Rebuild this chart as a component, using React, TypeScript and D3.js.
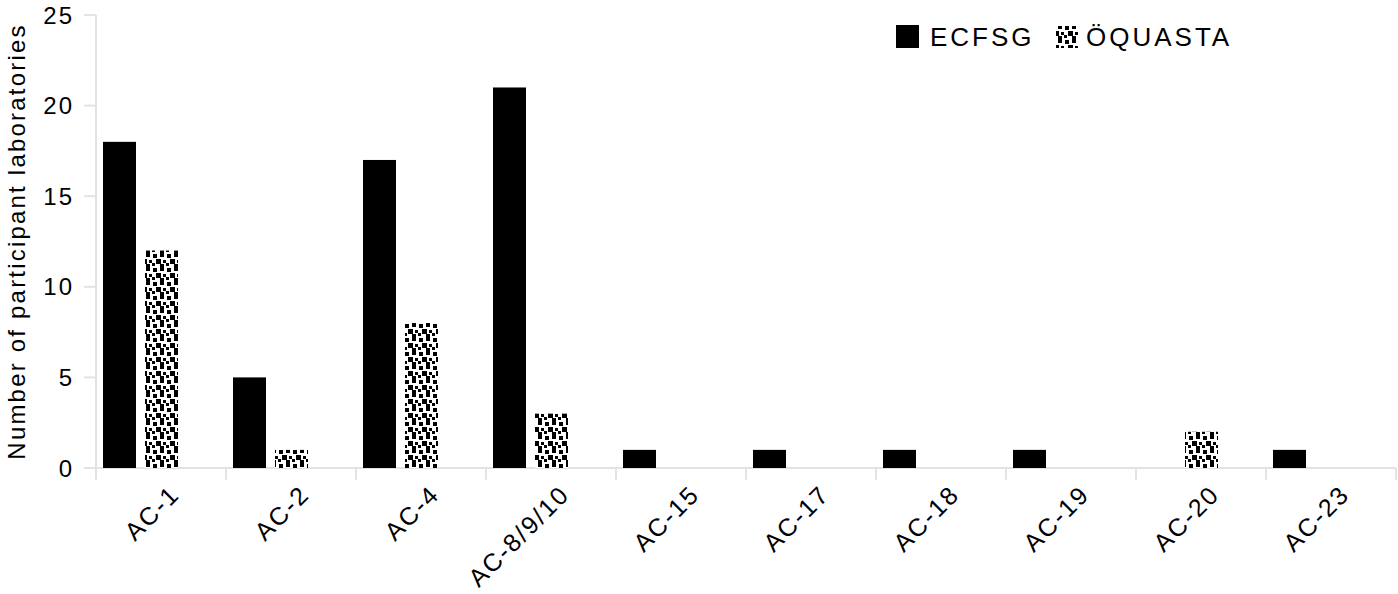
import React from 'react'
import * as d3 from 'd3'

const categories = ['AC-1', 'AC-2', 'AC-4', 'AC-8/9/10', 'AC-15', 'AC-17', 'AC-18', 'AC-19', 'AC-20', 'AC-23']
const ecfsg = [18, 5, 17, 21, 1, 1, 1, 1, 0, 1]
const oquasta = [12, 1, 8, 3, 0, 0, 0, 0, 2, 0]
const yTicks = [0, 5, 10, 15, 20, 25]

const W = 1398
const H = 594
const margin = { top: 15, right: 2, bottom: 126, left: 96 }
const font = 'Liberation Sans, Arial, Helvetica, sans-serif'
const fs = 24
const ls = 2.2
const axisColor = '#e3e3e3'

// little squares for the dotted fill, inside a 14x14 tile
const dots = [
  [1, 1, 4], [8, 0, 4], [4, 6, 5], [11, 7, 3],
  [0, 10, 3], [8, 11, 4],
]

const App = () => {
  const h = H - margin.top - margin.bottom

  const x = d3.scaleBand().domain(categories).range([0, 1300]).padding(0)
  const y = d3.scaleLinear().domain([0, 25]).range([h, 0])

  const barW = 33
  const off1 = 7
  const off2 = 49

  return (
    <svg width={W} height={H} style={{ display: 'block', position: 'absolute', left: 0, top: 0 }}>
      <defs>
        <pattern id="dotted" width={14} height={14} patternUnits="userSpaceOnUse">
          <rect width={14} height={14} fill="#fff" />
          {dots.map((d, i) => (
            <rect key={i} x={d[0]} y={d[1]} width={d[2]} height={d[2]} fill="#000" />
          ))}
        </pattern>
      </defs>
      <rect width={W} height={H} fill="#fff" />
      <g transform={`translate(${margin.left},${margin.top})`}>
        {/* y axis */}
        <line x1={0} x2={0} y1={0} y2={h} stroke={axisColor} strokeWidth={2} />
        {yTicks.map((t) => (
          <g key={t} transform={`translate(0,${y(t)})`}>
            <line x1={-12} x2={0} stroke={axisColor} strokeWidth={2} />
            <text x={-22} dy="0.36em" textAnchor="end" fontFamily={font} fontSize={fs} letterSpacing={2} fill="#000">
              {t}
            </text>
          </g>
        ))}
        <text
          transform={`translate(${16 - margin.left},${h / 2}) rotate(-90)`}
          textAnchor="middle"
          dy="0.36em"
          fontFamily={font}
          fontSize={fs}
          letterSpacing={ls}
          fill="#000"
        >
          Number of participant laboratories
        </text>

        {/* x axis */}
        <line x1={-12} x2={1300} y1={h} y2={h} stroke={axisColor} strokeWidth={2} />
        {categories.map((c) => (
          <line key={c} x1={x(c)!} x2={x(c)!} y1={h} y2={h + 12} stroke={axisColor} strokeWidth={2} />
        ))}
        <line x1={1300} x2={1300} y1={h} y2={h + 12} stroke={axisColor} strokeWidth={2} />
        {categories.map((c) => {
          const cx = x(c)! + x.bandwidth() / 2
          return (
            <text
              key={c}
              transform={`translate(${cx + 20},${h + 28}) rotate(-45)`}
              textAnchor="end"
              fontFamily={font}
              fontSize={25}
              letterSpacing={2}
              fill="#000"
            >
              {c}
            </text>
          )
        })}

        {/* bars */}
        {categories.map((c, i) =>
          ecfsg[i] > 0 ? (
            <rect key={'e' + c} x={x(c)! + off1} y={y(ecfsg[i])} width={barW} height={h - y(ecfsg[i])} fill="#000" />
          ) : null
        )}
        {categories.map((c, i) =>
          oquasta[i] > 0 ? (
            <rect
              key={'o' + c}
              x={x(c)! + off2}
              y={y(oquasta[i])}
              width={barW}
              height={h - y(oquasta[i])}
              fill="url(#dotted)"
            />
          ) : null
        )}

        {/* legend */}
        <g transform="translate(800,10)">
          <rect x={0} y={0} width={23} height={23} fill="#000" />
          <text x={34} y={12} dy="0.36em" fontFamily={font} fontSize={26} letterSpacing={3} fill="#000">
            ECFSG
          </text>
          <rect x={160} y={1} width={22} height={22} fill="url(#dotted)" />
          <text x={190} y={12} dy="0.36em" fontFamily={font} fontSize={26} letterSpacing={3} fill="#000">
            ÖQUASTA
          </text>
        </g>
      </g>
    </svg>
  )
}

export default App
